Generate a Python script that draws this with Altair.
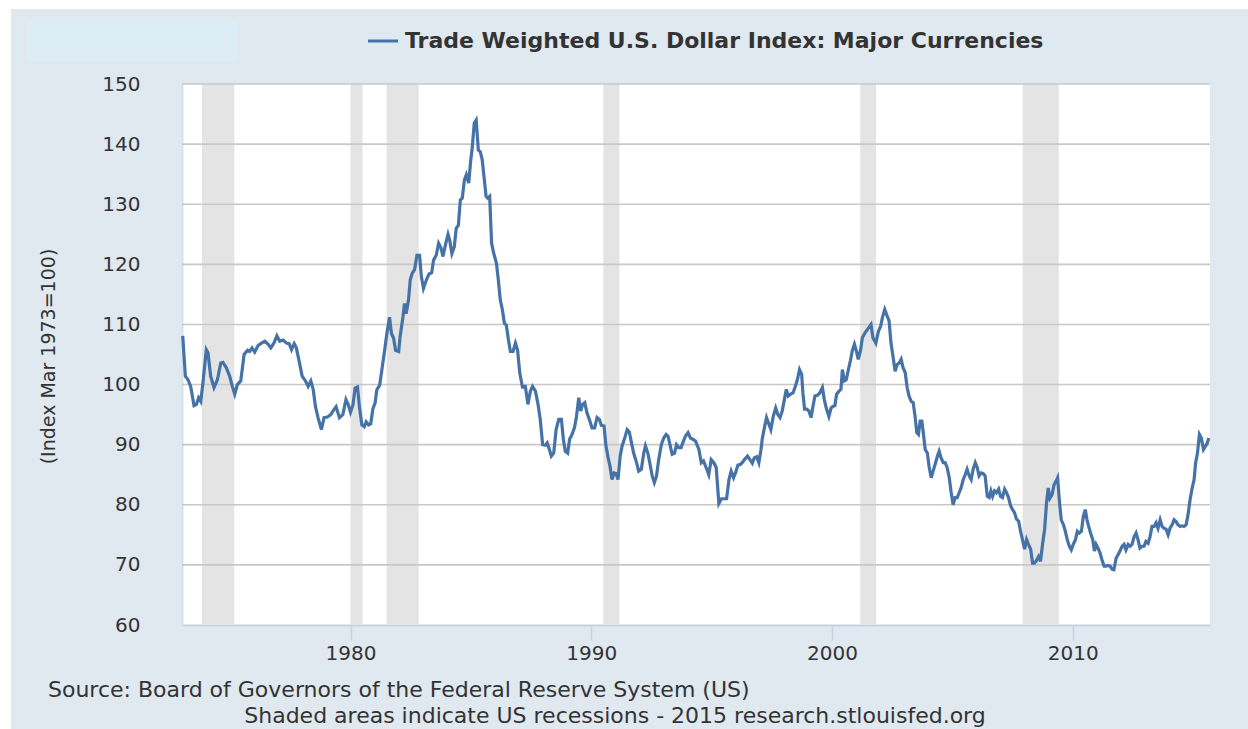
import altair as alt
import pandas as pd

# ---- data (fractional year, index value) ----
years = [
    1973.03, 1973.14, 1973.25, 1973.36, 1973.50, 1973.60, 1973.69, 1973.78, 1973.87, 1974.01,
    1974.08, 1974.19, 1974.33, 1974.47, 1974.61, 1974.70, 1974.84, 1974.98, 1975.09, 1975.19,
    1975.30, 1975.44, 1975.58, 1975.72, 1975.81, 1975.91, 1976.02, 1976.16, 1976.30, 1976.44,
    1976.58, 1976.69, 1976.83, 1976.94, 1977.06, 1977.20, 1977.34, 1977.45, 1977.55, 1977.66,
    1977.75, 1977.85, 1977.99, 1978.13, 1978.24, 1978.35, 1978.45, 1978.54, 1978.65, 1978.79,
    1978.90, 1979.04, 1979.18, 1979.29, 1979.40, 1979.54, 1979.68, 1979.81, 1979.90, 1980.00,
    1980.10, 1980.19, 1980.29, 1980.37, 1980.47, 1980.57, 1980.65, 1980.75, 1980.84, 1980.93,
    1981.02, 1981.09, 1981.21, 1981.30, 1981.40, 1981.51, 1981.62, 1981.70, 1981.79, 1981.87,
    1982.00, 1982.06, 1982.18, 1982.24, 1982.31, 1982.41, 1982.48, 1982.56, 1982.66, 1982.76,
    1982.87, 1982.94, 1983.03, 1983.15, 1983.26, 1983.37, 1983.45, 1983.56, 1983.66, 1983.76,
    1983.84, 1983.94, 1984.05, 1984.12, 1984.21, 1984.31, 1984.39, 1984.48, 1984.56, 1984.64,
    1984.73, 1984.81, 1984.91, 1984.98, 1985.06, 1985.14, 1985.22, 1985.31, 1985.39, 1985.47,
    1985.56, 1985.63, 1985.70, 1985.78, 1985.86, 1985.95, 1986.06, 1986.14, 1986.22, 1986.31,
    1986.39, 1986.47, 1986.56, 1986.64, 1986.75, 1986.85, 1986.94, 1987.03, 1987.14, 1987.26,
    1987.37, 1987.47, 1987.56, 1987.68, 1987.79, 1987.88, 1987.98, 1988.09, 1988.17, 1988.26,
    1988.34, 1988.44, 1988.54, 1988.65, 1988.76, 1988.84, 1988.92, 1989.02, 1989.10, 1989.20,
    1989.30, 1989.38, 1989.48, 1989.56, 1989.64, 1989.73, 1989.82, 1989.92, 1990.03, 1990.14,
    1990.24, 1990.34, 1990.42, 1990.53, 1990.61, 1990.70, 1990.78, 1990.86, 1990.95, 1991.03,
    1991.11, 1991.20, 1991.28, 1991.39, 1991.49, 1991.58, 1991.67, 1991.76, 1991.86, 1991.97,
    1992.08, 1992.18, 1992.25, 1992.35, 1992.43, 1992.53, 1992.62, 1992.71, 1992.80, 1992.91,
    1993.01, 1993.11, 1993.19, 1993.28, 1993.36, 1993.46, 1993.54, 1993.64, 1993.73, 1993.83,
    1993.91, 1994.02, 1994.12, 1994.22, 1994.33, 1994.47, 1994.57, 1994.66, 1994.77, 1994.88,
    1994.98, 1995.09, 1995.19, 1995.30, 1995.41, 1995.52, 1995.62, 1995.72, 1995.81, 1995.91,
    1995.99, 1996.09, 1996.19, 1996.27, 1996.38, 1996.49, 1996.59, 1996.69, 1996.77, 1996.87,
    1996.96, 1997.05, 1997.10, 1997.19, 1997.28, 1997.38, 1997.46, 1997.56, 1997.66, 1997.75,
    1997.84, 1997.93, 1998.02, 1998.10, 1998.18, 1998.28, 1998.38, 1998.46, 1998.56, 1998.65,
    1998.74, 1998.79, 1998.86, 1998.95, 1999.04, 1999.13, 1999.21, 1999.29, 1999.39, 1999.49,
    1999.60, 1999.68, 1999.76, 1999.87, 1999.96, 2000.05, 2000.12, 2000.19, 2000.29, 2000.37,
    2000.43, 2000.51, 2000.59, 2000.68, 2000.76, 2000.84, 2000.93, 2001.01, 2001.09, 2001.19,
    2001.26, 2001.37, 2001.62, 2001.70, 2001.82, 2001.93, 2002.02, 2002.09, 2002.19, 2002.29,
    2002.37, 2002.45, 2002.54, 2002.62, 2002.70, 2002.79, 2002.87, 2002.95, 2003.04, 2003.12,
    2003.20, 2003.29, 2003.37, 2003.45, 2003.52, 2003.59, 2003.66, 2003.73, 2003.80, 2003.87,
    2003.96, 2004.03, 2004.12, 2004.20, 2004.28, 2004.38, 2004.45, 2004.53, 2004.62, 2004.70,
    2004.78, 2004.87, 2004.95, 2005.03, 2005.11, 2005.20, 2005.28, 2005.36, 2005.45, 2005.53,
    2005.61, 2005.70, 2005.78, 2005.86, 2005.95, 2006.03, 2006.11, 2006.20, 2006.28, 2006.36,
    2006.45, 2006.53, 2006.60, 2006.67, 2006.75, 2006.83, 2006.92, 2007.00, 2007.08, 2007.17,
    2007.25, 2007.33, 2007.42, 2007.50, 2007.58, 2007.66, 2007.75, 2007.83, 2007.91, 2008.00,
    2008.08, 2008.16, 2008.25, 2008.33, 2008.41, 2008.47, 2008.58, 2008.66, 2008.75, 2008.83,
    2008.91, 2008.98, 2009.05, 2009.14, 2009.22, 2009.30, 2009.37, 2009.44, 2009.52, 2009.61,
    2009.69, 2009.77, 2009.86, 2009.94, 2010.02, 2010.11, 2010.19, 2010.27, 2010.36, 2010.44,
    2010.52, 2010.59, 2010.66, 2010.74, 2010.83, 2010.90, 2010.97, 2011.05, 2011.13, 2011.21,
    2011.30, 2011.38, 2011.46, 2011.55, 2011.63, 2011.71, 2011.80, 2011.88, 2011.96, 2012.05,
    2012.13, 2012.21, 2012.30, 2012.38, 2012.46, 2012.55, 2012.63, 2012.71, 2012.79, 2012.88,
    2012.96, 2013.04, 2013.13, 2013.21, 2013.29, 2013.38, 2013.46, 2013.54, 2013.63, 2013.71,
    2013.79, 2013.88, 2013.96, 2014.04, 2014.13, 2014.21, 2014.29, 2014.37, 2014.46, 2014.54,
    2014.62, 2014.71, 2014.79, 2014.87, 2014.96, 2015.04, 2015.10, 2015.18, 2015.26, 2015.34,
    2015.43, 2015.51, 2015.59, 2015.65,
]

values = [
    108.1, 101.4, 100.8, 99.7, 96.5, 96.7, 97.8, 97.2, 100.3, 105.8,
    105.3, 101.4, 99.5, 100.8, 103.6, 103.7, 102.8, 101.4, 99.7, 98.4,
    100.0, 100.6, 105.0, 105.7, 105.5, 106.1, 105.4, 106.5, 106.9, 107.2,
    106.7, 106.1, 107.0, 108.1, 107.2, 107.4, 106.9, 106.8, 105.8, 106.8,
    106.1, 104.2, 101.4, 100.6, 99.7, 100.6, 99.2, 96.4, 94.5, 92.5,
    94.5, 94.6, 95.0, 95.7, 96.3, 94.5, 95.0, 97.5, 96.7, 95.4,
    96.6, 99.4, 99.6, 96.3, 93.3, 93.0, 93.8, 93.3, 93.5, 96.0,
    96.9, 99.1, 99.9, 102.4, 105.2, 108.5, 111.2, 108.5, 107.7, 105.7,
    105.5, 108.0, 111.3, 113.5, 111.8, 114.1, 117.4, 118.5, 119.1, 121.5,
    121.5, 118.0, 116.0, 117.4, 118.4, 118.6, 120.7, 121.5, 123.5, 122.7,
    121.3, 123.2, 125.0, 124.0, 121.8, 122.9, 126.0, 126.5, 130.7, 131.0,
    134.0, 134.9, 133.5, 136.8, 139.6, 143.5, 144.0, 139.0, 138.7, 137.4,
    134.0, 131.3, 131.0, 131.3, 123.5, 121.8, 120.2, 117.4, 114.1, 112.4,
    110.2, 109.9, 107.4, 105.5, 105.5, 106.9, 105.7, 101.9, 99.6, 99.7,
    96.7, 98.9, 99.7, 98.9, 96.7, 94.2, 90.0, 89.9, 90.3, 89.2,
    88.1, 88.6, 92.5, 94.2, 94.2, 90.9, 88.9, 88.6, 90.9, 91.7,
    92.8, 94.5, 97.8, 95.6, 96.7, 97.0, 95.3, 94.2, 92.8, 92.8,
    94.5, 94.2, 93.2, 93.1, 89.8, 87.8, 86.4, 84.2, 85.3, 85.2,
    84.2, 88.1, 89.8, 91.1, 92.5, 92.1, 90.3, 88.6, 87.3, 85.6,
    85.9, 88.6, 89.8, 88.6, 87.0, 84.8, 83.7, 84.8, 87.5, 90.0,
    91.1, 91.7, 91.4, 89.8, 88.4, 88.6, 90.0, 89.5, 89.5, 90.6,
    91.4, 92.0, 91.1, 90.9, 90.6, 89.2, 87.0, 87.3, 86.2, 85.0,
    87.5, 87.0, 86.2, 80.2, 81.0, 81.0, 81.0, 84.2, 85.6, 84.5,
    85.3, 86.6, 86.7, 87.0, 87.6, 88.1, 87.5, 86.9, 87.8, 88.0,
    87.0, 89.2, 90.9, 92.8, 94.5, 93.4, 92.5, 94.7, 96.1, 95.0,
    94.5, 95.6, 97.5, 99.2, 98.1, 98.4, 98.6, 99.5, 100.8, 102.5,
    101.7, 98.6, 95.9, 95.9, 95.6, 94.5, 96.4, 98.1, 98.2, 98.6,
    99.5, 97.5, 96.1, 94.7, 96.1, 96.4, 96.5, 98.4, 98.9, 99.2,
    102.5, 100.6, 100.8, 102.5, 103.9, 105.6, 106.7, 105.6, 104.2, 105.8,
    107.8, 108.6, 110.0, 107.8, 106.9, 108.9, 109.7, 111.1, 112.5, 111.4,
    110.6, 106.9, 104.5, 102.2, 103.3, 103.6, 104.2, 102.8, 102.0, 99.5,
    98.1, 97.2, 97.0, 94.7, 92.0, 91.7, 93.9, 93.9, 91.7, 89.2,
    88.6, 86.4, 84.5, 85.6, 86.7, 88.1, 88.9, 87.8, 87.0, 87.0,
    86.2, 84.5, 82.0, 80.0, 81.2, 81.2, 82.0, 82.8, 84.2, 85.0,
    85.9, 84.8, 84.2, 85.9, 87.0, 86.2, 84.8, 85.3, 85.2, 84.8,
    81.4, 81.2, 82.3, 81.4, 82.3, 82.0, 82.6, 81.4, 81.2, 82.6,
    82.0, 81.2, 79.8, 79.2, 78.7, 77.6, 77.3, 75.6, 74.2, 72.6,
    74.2, 73.4, 72.6, 70.3, 70.3, 70.6, 71.4, 70.6, 73.6, 75.9,
    80.3, 82.8, 81.1, 81.7, 83.3, 83.9, 84.5, 80.8, 77.5, 76.7,
    75.6, 74.2, 73.1, 72.5, 73.4, 74.2, 75.6, 75.3, 75.6, 78.1,
    79.2, 77.5, 76.4, 75.3, 74.2, 72.3, 73.4, 72.8, 72.0, 70.9,
    69.8, 69.8, 69.9, 69.8, 69.3, 69.2, 71.1, 71.7, 72.3, 73.1,
    73.4, 72.5, 73.4, 73.1, 73.4, 74.7, 75.3, 74.2, 72.8, 73.1,
    73.1, 73.9, 73.6, 74.7, 76.4, 76.4, 77.0, 76.1, 77.5, 76.4,
    76.1, 75.9, 75.0, 76.1, 76.7, 77.5, 77.2, 76.7, 76.4, 76.5,
    76.4, 76.7, 78.4, 80.8, 82.8, 84.2, 86.9, 88.6, 91.7, 91.1,
    89.2, 89.7, 90.3, 91.1,
]

# NBER recessions (fractional years)
rec_start = [1973.83, 1980.00, 1981.50, 1990.50, 2001.17, 2007.92]
rec_end = [1975.17, 1980.50, 1982.83, 1991.17, 2001.83, 2009.42]

y_ticks = [60, 70, 80, 90, 100, 110, 120, 130, 140, 150]
x_ticks = [1980, 1990, 2000, 2010]

series_name = "Trade Weighted U.S. Dollar Index: Major Currencies"
y_title = "(Index Mar 1973=100)"
source_text = "Source: Board of Governors of the Federal Reserve System (US)"
note_text = "Shaded areas indicate US recessions - 2015 research.stlouisfed.org"

# ---- layout constants ----
W, H = 1028, 541
PAD_L, PAD_T, PAD_R, PAD_B = 182, 84, 38, 104
FONT = "DejaVu Sans"
TXT = "#333333"
LINE_COLOR = "#4572a7"
FRAME = "#e0e8f0"

df = pd.DataFrame({"year": years, "value": values})
rec = pd.DataFrame({"start": rec_start, "end": rec_end})
grid = pd.DataFrame({"v": y_ticks[1:]})
one = pd.DataFrame({"k": [0]})

xscale = alt.Scale(domain=[1973, 2015.7], nice=False, zero=False)
yscale = alt.Scale(domain=[60, 150], nice=False, zero=False)

x_axis = alt.Axis(
    values=x_ticks, format="d", title=None, grid=False,
    domainColor="#c6d3e4", domainWidth=2,
    tickColor="#c6d3e4", tickSize=15, tickWidth=1.5,
    labelFont=FONT, labelFontSize=20, labelColor=TXT, labelPadding=3,
)
y_axis = alt.Axis(
    values=y_ticks, grid=False, ticks=False,
    domainColor="#d8e1ec", domainWidth=2,
    labelFont=FONT, labelFontSize=20, labelColor=TXT, labelPadding=42,
    title=y_title, titleFont=FONT, titleFontSize=19, titleFontWeight="normal",
    titleColor=TXT, titleX=-134, titleY=272, titleAngle=270,
    titleAlign="center", titleBaseline="middle",
)

shade = alt.Chart(rec).mark_rect(color="#e4e4e4").encode(
    x=alt.X("start:Q", scale=xscale, axis=x_axis),
    x2="end:Q",
    y=alt.value(0),
    y2=alt.value(H),
)

gridlines = alt.Chart(grid).mark_rule(color="#c8c8c8", strokeWidth=1.6).encode(
    y=alt.Y("v:Q", scale=yscale, axis=y_axis)
)

line = alt.Chart(df).mark_line(color=LINE_COLOR, strokeWidth=3.2).encode(
    x=alt.X("year:Q", scale=xscale, axis=x_axis),
    y=alt.Y("value:Q", scale=yscale, axis=y_axis),
)

# ---- decorations around the plot (page edge, header box, legend, notes) ----
def box(x1, x2, y1, y2, color):
    return alt.Chart(one).mark_rect(color=color).encode(
        x=alt.value(x1), x2=alt.value(x2), y=alt.value(y1), y2=alt.value(y2)
    )

edge_left = box(-PAD_L, -PAD_L + 11, -PAD_T, H + PAD_B, "white")
edge_top = box(-PAD_L, W + PAD_R, -PAD_T, -PAD_T + 9, "white")
header_box = box(-155, 55, -63, -22, "#ddedf5")

legend_rule = alt.Chart(one).mark_rule(color=LINE_COLOR, strokeWidth=3).encode(
    x=alt.value(186), x2=alt.value(216), y=alt.value(-43)
)

def label(x, y, txt, align="left", weight="normal", size=22):
    return alt.Chart(one).mark_text(
        align=align, baseline="middle", font=FONT, fontSize=size,
        fontWeight=weight, color=TXT,
    ).encode(x=alt.value(x), y=alt.value(y), text=alt.value(txt))

legend_text = label(223, -43, series_name, weight="bold", size=22)
source = label(-134, 606, source_text)
note = label(433, 632, note_text, align="center")

chart = alt.layer(
    shade, gridlines, line,
    edge_left, edge_top, header_box, legend_rule, legend_text, source, note,
).properties(
    width=W,
    height=H,
    autosize=alt.AutoSizeParams(type="none"),
    padding={"left": PAD_L, "top": PAD_T, "right": PAD_R, "bottom": PAD_B},
    background=FRAME,
).configure_view(strokeWidth=0, fill="white")

chart.save("out.html", embed_options={"renderer": "svg", "actions": False})
